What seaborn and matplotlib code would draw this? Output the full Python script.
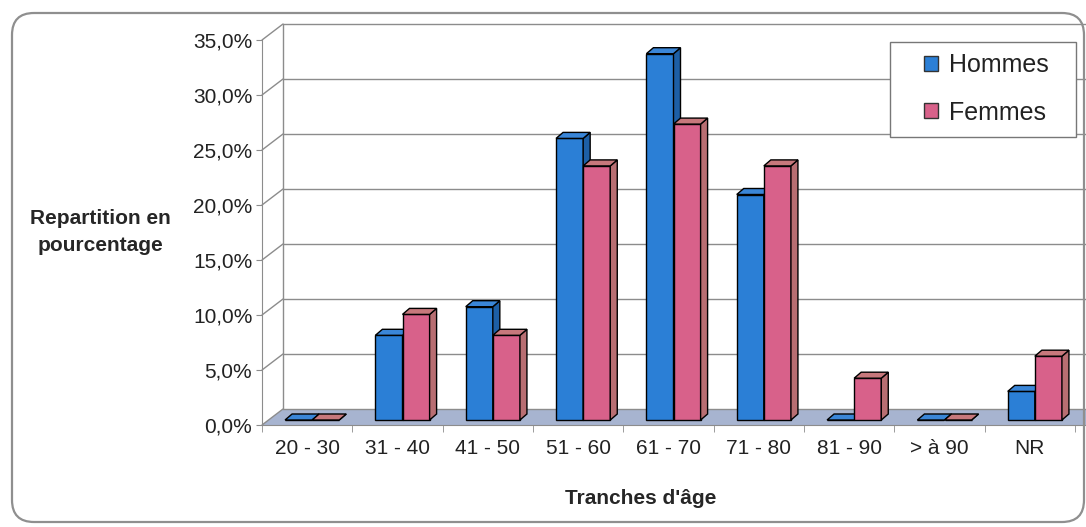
import numpy as np
import pandas as pd
import matplotlib
matplotlib.use("Agg")
import matplotlib.pyplot as plt
from matplotlib.patches import Polygon, Patch, FancyBboxPatch, Rectangle
from matplotlib.ticker import FuncFormatter
import seaborn as sns

# ---------------- data ----------------
categories = ["20 - 30", "31 - 40", "41 - 50", "51 - 60", "61 - 70",
              "71 - 80", "81 - 90", "> à 90", "NR"]
hommes = [0.0, 7.7, 10.3, 25.6, 33.3, 20.5, 0.0, 0.0, 2.6]
femmes = [0.0, 9.6, 7.7, 23.1, 26.9, 23.1, 3.8, 0.0, 5.8]
series = ["Hommes", "Femmes"]
yticks = [0, 5, 10, 15, 20, 25, 30, 35]
xlabel = "Tranches d'âge"
ylabel = "Repartition en\npourcentage"

blue = "#2b7fd6"
pink = "#d8618a"
blue_top = "#3a86d8"
blue_side = "#1d5fa6"
pink_top = "#c7787c"
pink_side = "#b86e72"

df = pd.DataFrame({
    "tranche": categories * 2,
    "pct": hommes + femmes,
    "sexe": [series[0]] * len(categories) + [series[1]] * len(categories),
})

sns.set_style("white")
plt.rcParams["font.family"] = ["Liberation Sans", "DejaVu Sans"]
plt.rcParams["text.color"] = "#222222"

W, H = 1086, 527
fig = plt.figure(figsize=(W / 100, H / 100), dpi=100)
fig.patch.set_facecolor("white")

# front plane of the pseudo-3D chart, in pixels
x0_px, x1_px = 262, 1075
y0_px, y35_px = 425, 40
ax = fig.add_axes([x0_px / W, (H - y0_px) / H, (x1_px - x0_px) / W, (y0_px - y35_px) / H])
ax.set_facecolor("none")

sns.barplot(data=df, x="tranche", y="pct", hue="sexe", order=categories,
            hue_order=series, palette=[blue, pink], width=0.6, saturation=1,
            edgecolor="black", linewidth=1.0, legend=False, ax=ax, zorder=3)

ax.set_xlim(-0.5, len(categories) - 0.5)
ax.set_ylim(0, 35)

px2dx = (len(categories)) / (x1_px - x0_px)
px2dy = 35 / (y0_px - y35_px)
WX, WY = 21 * px2dx, 16 * px2dy      # back wall offset
BX, BY = 5 * px2dx, 5 * px2dy        # bar plane offset
DX, DY = 7 * px2dx, 6 * px2dy        # bar depth
xr = -0.5 + (W - x0_px) * px2dx + 0.5  # beyond figure edge

grid_c = "#8c8c8c"
# floor
floor = Polygon([(-0.5, 0), (xr, 0), (xr + WX, WY), (-0.5 + WX, WY)],
                closed=True, facecolor="#a7b4d0", edgecolor="none",
                zorder=1, clip_on=False)
ax.add_patch(floor)
# back wall gridlines
for yv in yticks:
    ax.plot([-0.5 + WX, xr + WX], [yv + WY, yv + WY], color=grid_c, lw=1.0,
            zorder=2, clip_on=False)
    ax.plot([-0.5, -0.5 + WX], [yv, yv + WY], color=grid_c, lw=1.0,
            zorder=2, clip_on=False)
ax.plot([-0.5 + WX, -0.5 + WX], [WY, 35 + WY], color=grid_c, lw=1.0,
        zorder=2, clip_on=False)

# bars: shift to bar plane and add top/side faces
n = len(categories)
for i, p in enumerate(ax.patches[:2 * n]):
    is_h = i < n
    z = 3 if is_h else 4
    p.set_zorder(z)
    x = p.get_x() + BX
    w = p.get_width()
    h = p.get_height()
    p.set_x(x)
    p.set_y(BY)
    xa, xb = x, x + w
    ya, yb = BY, BY + h
    top = Polygon([(xa, yb), (xb, yb), (xb + DX, yb + DY), (xa + DX, yb + DY)],
                  closed=True, facecolor=blue_top if is_h else pink_top,
                  edgecolor="black", lw=1.0, zorder=z, clip_on=False)
    side = Polygon([(xb, ya), (xb + DX, ya + DY), (xb + DX, yb + DY), (xb, yb)],
                   closed=True, facecolor=blue_side if is_h else pink_side,
                   edgecolor="black", lw=1.0, zorder=z, clip_on=False)
    ax.add_patch(side)
    ax.add_patch(top)

# axes styling
for s in ["top", "right"]:
    ax.spines[s].set_visible(False)
ax.spines["left"].set_color(grid_c)
ax.spines["bottom"].set_color(grid_c)
ax.spines["bottom"].set_bounds(-0.5, xr)
ax.spines["left"].set_zorder(2)
ax.spines["bottom"].set_zorder(2)

ax.set_yticks(yticks)
ax.yaxis.set_major_formatter(FuncFormatter(lambda v, p: f"{v:.1f}%".replace(".", ",")))
ax.tick_params(axis="y", length=4, color=grid_c, labelsize=15, pad=3,
               labelcolor="#222222", left=True)
ax.set_xticks(range(n))
ax.set_xticklabels(categories)
ax.set_xticks(np.arange(-0.5, n, 1.0), minor=True)
ax.tick_params(axis="x", which="major", length=0, labelsize=15, pad=10,
               labelcolor="#222222")
ax.tick_params(axis="x", which="minor", length=5, color=grid_c, bottom=True)

ax.set_xlabel(xlabel, fontsize=15, fontweight="bold")
ax.xaxis.set_label_coords((641 - x0_px) / (x1_px - x0_px), (y0_px - 498) / (y0_px - y35_px))
ax.xaxis.label.set_va("center")
ax.set_ylabel(ylabel, fontsize=15, fontweight="bold", rotation=0,
              ha="center", va="center", multialignment="center", linespacing=1.5)
ax.yaxis.set_label_coords((100 - x0_px) / (x1_px - x0_px), (y0_px - 232) / (y0_px - y35_px))

# legend (frame drawn separately to match the wide Excel box)
frame = Rectangle((890 / W, 1 - 137 / H), (1076 - 890) / W, (137 - 42) / H,
                  transform=fig.transFigure, facecolor="white",
                  edgecolor="#777777", lw=1.0, zorder=9)
fig.patches.append(frame)
handles = [Patch(facecolor=blue, edgecolor="#333333", lw=1.0),
           Patch(facecolor=pink, edgecolor="#333333", lw=1.0)]
leg = fig.legend(handles, series, loc="upper left",
                 bbox_to_anchor=(924 / W, 1 - 53 / H), fontsize=18,
                 frameon=False, handlelength=0.55, handleheight=0.55,
                 handletextpad=0.45, labelspacing=0.95, borderpad=0,
                 borderaxespad=0)
leg.set_zorder(10)

# rounded outer border
border = FancyBboxPatch((0.12, 0.05), 10.72, 5.09, boxstyle="round,pad=0,rounding_size=0.22",
                        transform=fig.dpi_scale_trans, facecolor="none",
                        edgecolor="#8f8f8f", lw=1.6, zorder=0)
fig.patches.append(border)

fig.savefig("out.png", dpi=100)
